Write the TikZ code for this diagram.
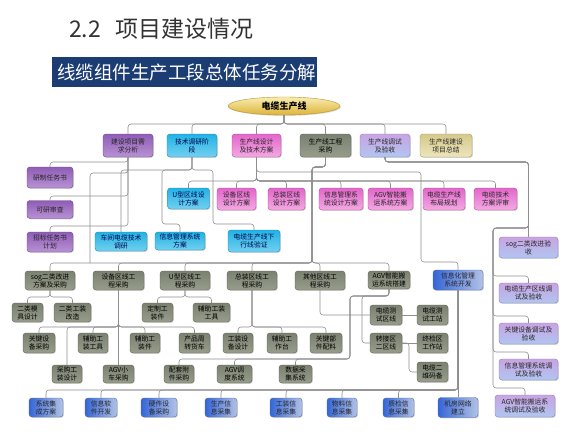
\documentclass[tikz,border=0pt]{standalone}
\usepackage{fontspec}
\newfontfamily\cjk{Noto Sans CJK SC}
\usetikzlibrary{shapes.geometric,shadows}
\definecolor{lnc}{HTML}{8E8E8E}
\definecolor{purT}{HTML}{8F5DB6}\definecolor{purB}{HTML}{B892D3}\definecolor{purD}{HTML}{6A4089}
\definecolor{cyaT}{HTML}{22B2E4}\definecolor{cyaB}{HTML}{72D0F0}\definecolor{cyaD}{HTML}{1987B3}
\definecolor{pnkT}{HTML}{E366CB}\definecolor{pnkB}{HTML}{F3A9E2}\definecolor{pnkD}{HTML}{B3449B}
\definecolor{gryT}{HTML}{7B8271}\definecolor{gryB}{HTML}{979C8B}\definecolor{gryD}{HTML}{595F52}
\definecolor{lavT}{HTML}{C9A3E2}\definecolor{lavB}{HTML}{B0C6F0}\definecolor{lavD}{HTML}{8C7FB5}
\definecolor{khaT}{HTML}{D5C98B}\definecolor{khaB}{HTML}{EDE5BC}\definecolor{khaD}{HTML}{A59A5B}
\definecolor{bluL}{HTML}{3666D6}\definecolor{bluR}{HTML}{B2C2E6}\definecolor{bluD}{HTML}{4E6AA8}
\definecolor{golT}{HTML}{F8EDB0}\definecolor{golB}{HTML}{DDB33A}\definecolor{golD}{HTML}{B8922A}
\definecolor{navyb}{HTML}{1B3D73}
\tikzset{
 nd/.style={rounded corners=3pt, align=center, inner sep=0.5pt, line width=0.4pt,
   font=\cjk\fontsize{6.8}{8}\selectfont,
   drop shadow={shadow xshift=0.9pt, shadow yshift=-0.9pt, opacity=0.3}},
 pur/.style={nd, draw=purD, top color=purT, bottom color=purB, text=black!85},
 cya/.style={nd, draw=cyaD, top color=cyaT, bottom color=cyaB, text=blue!30!black},
 pnk/.style={nd, draw=pnkD, top color=pnkT, bottom color=pnkB, text=black!85},
 gry/.style={nd, draw=gryD, top color=gryT, bottom color=gryB, text=black},
 lav/.style={nd, draw=lavD, top color=lavT, bottom color=lavB, text=black!85},
 kha/.style={nd, draw=khaD, top color=khaT, bottom color=khaB, text=black!85},
 blu/.style={nd, draw=bluD, left color=bluL, right color=bluR, text=black!85},
 cn/.style={draw=lnc, line width=0.55pt, rounded corners=3pt},
}
\newcommand\bx[6]{\node[#1,minimum width=#4pt,minimum height=#5pt] (#2) at (#3) {#6};}
\begin{document}
\begin{tikzpicture}[x=1pt,y=-1pt]
\useasboundingbox (0,0) rectangle (579,434);
\fill[white] (0,0) rectangle (579,434);
\node[anchor=west, inner sep=0, font=\cjk\fontsize{23}{25}\selectfont, text=black!80] (title) at (69,29) {2.2\hspace{14pt}项目建设情况};
\node[fill=navyb, text=white, anchor=north west, minimum height=30pt, inner xsep=5pt, inner ysep=0pt, text width=255pt, align=left, font=\cjk\fontsize{18.5}{20}\selectfont] (ban) at (52,57) {线缆组件生产工段总体任务分解};
\node[ellipse, draw=golD, top color=golT, bottom color=golB, minimum width=112pt, minimum height=18pt, inner sep=0pt, font=\cjk\fontsize{9}{10}\selectfont\bfseries, drop shadow={shadow xshift=0.9pt, shadow yshift=-0.9pt, opacity=0.3}] (root) at (284,106) {电缆生产线};
% row 1
\bx{pur}{a1}{128,145.5}{50}{23}{建设项目需\\求分析}
\bx{cya}{a2}{192,145.5}{50}{23}{技术调研阶\\段}
\bx{pnk}{a3}{256.5,145.5}{49}{23}{生产线设计\\及技术方案}
\bx{gry}{a4}{325.5,145.5}{51}{23}{生产线工程\\采购}
\bx{lav}{a5}{385,145.5}{50}{23}{生产线调试\\及验收}
\bx{kha}{a6}{446,145.5}{52}{23}{生产线建设\\项目总结}
% purple column
\bx{pur}{p1}{50,177.5}{46}{21}{研制任务书}
\bx{pur}{p2}{50,209.5}{46}{18}{可研审查}
\bx{pur}{p3}{50,242}{46}{20}{招标任务书\\计划}
% cyan
\bx{cya}{c1}{188.5,198.5}{42}{21}{U型区线设\\计方案}
\bx{cya}{c2}{121,241.5}{52}{19}{车间电缆技术\\调研}
\bx{cya}{c3}{180,241}{50}{18}{信息管理系统\\方案}
\bx{cya}{c4}{254,241}{52}{22}{电缆生产线下\\行线验证}
% pink
\bx{pnk}{k1}{236.5,199}{39}{22}{设备区线\\设计方案}
\bx{pnk}{k2}{286.5,199}{37}{22}{总装区线\\设计方案}
\bx{pnk}{k3}{341,199}{44}{22}{信息管理系\\统设计方案}
\bx{pnk}{k4}{390.5,199}{45}{22}{AGV智能搬\\运系统方案}
\bx{pnk}{k5}{444,199}{42}{22}{电缆生产线\\布局规划}
\bx{pnk}{k6}{495.5,199}{43}{22}{电缆技术\\方案评审}
% gray row 2
\bx{gry}{g1}{50,280.5}{50}{19}{sog二类改进\\方案及采购}
\bx{gry}{g2}{118.5,280.5}{51}{19}{设备区线工\\程采购}
\bx{gry}{g3}{185,280.5}{50}{19}{U型区线工\\程采购}
\bx{gry}{g4}{252,280.5}{50}{19}{总装区线工\\程采购}
\bx{gry}{g5}{320,280.5}{50}{19}{其他区线工\\程采购}
\bx{gry}{g6}{389,280}{42}{18}{AGV智能搬\\运系统搭建}
\bx{blu}{b0}{458,280}{50}{20}{信息化管理\\系统开发}
% gray row 3
\bx{gry}{h1}{27.5,312.5}{31}{19}{二类模\\具设计}
\bx{gry}{h2}{72.5,312.5}{37}{19}{二类工装\\改造}
\bx{gry}{h3}{157.5,312.5}{31}{19}{定制工\\装件}
\bx{gry}{h4}{211.5,312.5}{37}{19}{辅助工装\\工具}
% gray row 4
\bx{gry}{m1}{39,343}{32}{20}{关键设\\备采购}
\bx{gry}{m2}{93,343}{30}{20}{辅助工\\装工具}
\bx{gry}{m3}{145,343}{30}{20}{辅助工\\装件}
\bx{gry}{m4}{194.5,343}{31}{20}{产品周\\转货车}
\bx{gry}{m5}{238,343}{30}{20}{工装设\\备设计}
\bx{gry}{m6}{282,343}{30}{20}{辅助工\\作台}
\bx{gry}{m7}{326,343}{32}{20}{关键部\\件配料}
% small right cluster
\bx{gry}{s1}{386,315}{32}{20}{电缆测\\试区线}
\bx{gry}{s2}{386,343}{32}{20}{转接区\\二区线}
\bx{gry}{s3}{432.5,315}{31}{20}{电缆测\\试工站}
\bx{gry}{s4}{432.5,343}{31}{20}{终检区\\工作站}
\bx{gry}{s5}{432.5,372}{31}{20}{电缆二\\维码备}
% gray row 5
\bx{gry}{f1}{67,374}{30}{18}{采购工\\装设计}
\bx{gry}{f2}{118.5,374}{31}{18}{AGV小\\车采购}
\bx{gry}{f3}{179,374}{30}{18}{配套附\\件采购}
\bx{gry}{f4}{234.5,374}{35}{18}{AGV调\\度系统}
\bx{gry}{f5}{295.5,374}{33}{18}{数据采\\集系统}
% blue bottom
\bx{blu}{u1}{46,407.5}{34}{19}{系统集\\成方案}
\bx{blu}{u2}{101,407.5}{32}{19}{信息软\\件开发}
\bx{blu}{u3}{159,407.5}{36}{19}{硬件设\\备采购}
\bx{blu}{u4}{221,407.5}{32}{19}{生产信\\息采集}
\bx{blu}{u5}{286,407.5}{32}{19}{工装信\\息采集}
\bx{blu}{u6}{342,407.5}{30}{19}{物料信\\息采集}
\bx{blu}{u7}{398.5,407.5}{31}{19}{质检信\\息采集}
\bx{blu}{u8}{458,407.5}{40}{20}{机房网络\\建立}
% right column
\bx{lav}{r1}{528.5,247.5}{59}{21}{sog二类改进验\\收}
\bx{lav}{r2}{528.5,293}{59}{20}{电缆生产区线调\\试及验收}
\bx{lav}{r3}{528.5,333.5}{59}{21}{关键设备调试及\\验收}
\bx{lav}{r4}{528.5,369.5}{59}{21}{信息管理系统调\\试及验收}
\bx{lav}{r5}{525,406}{60}{22}{AGV智能搬运系\\统调试及验收}
% connectors
\foreach \n in {a1,a2,a3,a4,a5,a6} \draw[cn] (root.south) -- (284,124) -| (\n.north);
\draw[cn] (a1.south) -- (128,162) -| (p1.north);
\draw[cn] (a1.south) -- (128,196) -| (p2.north);
\draw[cn] (a1.south) -- (128,226) -| (p3.north);
\draw[cn] (a1.south) -- (128,173) -| (90,263);
\draw[cn] (a2.south) -- (192,170) -| (c2.north);
\draw[cn] (a2.south) -- (192,170) -- (162,170) -- (162,224) -| (c3.north);
\draw[cn] (a2.south) -- (192,170) -- (213,170) -- (213,224) -| (c4.north);
\foreach \n in {c1,k1,k2,k3,k4,k5,k6} \draw[cn] (a3.south) -- (256.5,181) -| (\n.north);
\draw[cn] (a3.south) -- (256.5,172) -| (421,262) -| (b0.north);
\foreach \n in {g1,g2,g3,g4,g5,g6} \draw[cn] (a4.south) -- (325.5,167) -| (312,263) -| (\n.north);
\draw[cn] (a5.south) -- (385,162) -| (r1.north);
\foreach \n/\y in {r2/276,r3/316,r4/352,r5/388} \draw[cn] (a5.south) -- (385,162) -- (528.5,162) -- (528.5,228) -- (493,228) -- (493,\y) -| (\n.north);
\draw[cn] (g1.south) -- (50,297) -| (h1.north);
\draw[cn] (g1.south) -- (50,297) -| (h2.north);
\draw[cn] (g3.south) -- (185,297) -| (h3.north);
\draw[cn] (g3.south) -- (185,297) -| (h4.north);
\foreach \n in {m1,m2,m3,m4,f1,f2} \draw[cn] (g2.south) -- (118.5,327) -| (\n.north);
\foreach \n in {m5,m6,m7} \draw[cn] (g4.south) -- (252,327) -| (\n.north);
\draw[cn] (g5.south) |- (s1.west);
\draw[cn] (g6.south) -- (389,296) -- (362,296) |- (s2.west);
\foreach \n in {f3,f4,f5} \draw[cn] (g6.south) -- (389,296) -- (350,296) -- (350,359) -| (\n.north);
\draw[cn] (s1.east) -- (s3.west);
\draw[cn] (s2.east) -- (s4.west);
\draw[cn] (s2.east) -- (409,343) |- (s5.west);
\foreach \n in {u1,u2,u3,u4,u5,u6,u7} \draw[cn] (b0.south) -- (458,390) -| (\n.north);
\draw[cn] (b0.south) -- (u8.north);
\end{tikzpicture}
\end{document}
